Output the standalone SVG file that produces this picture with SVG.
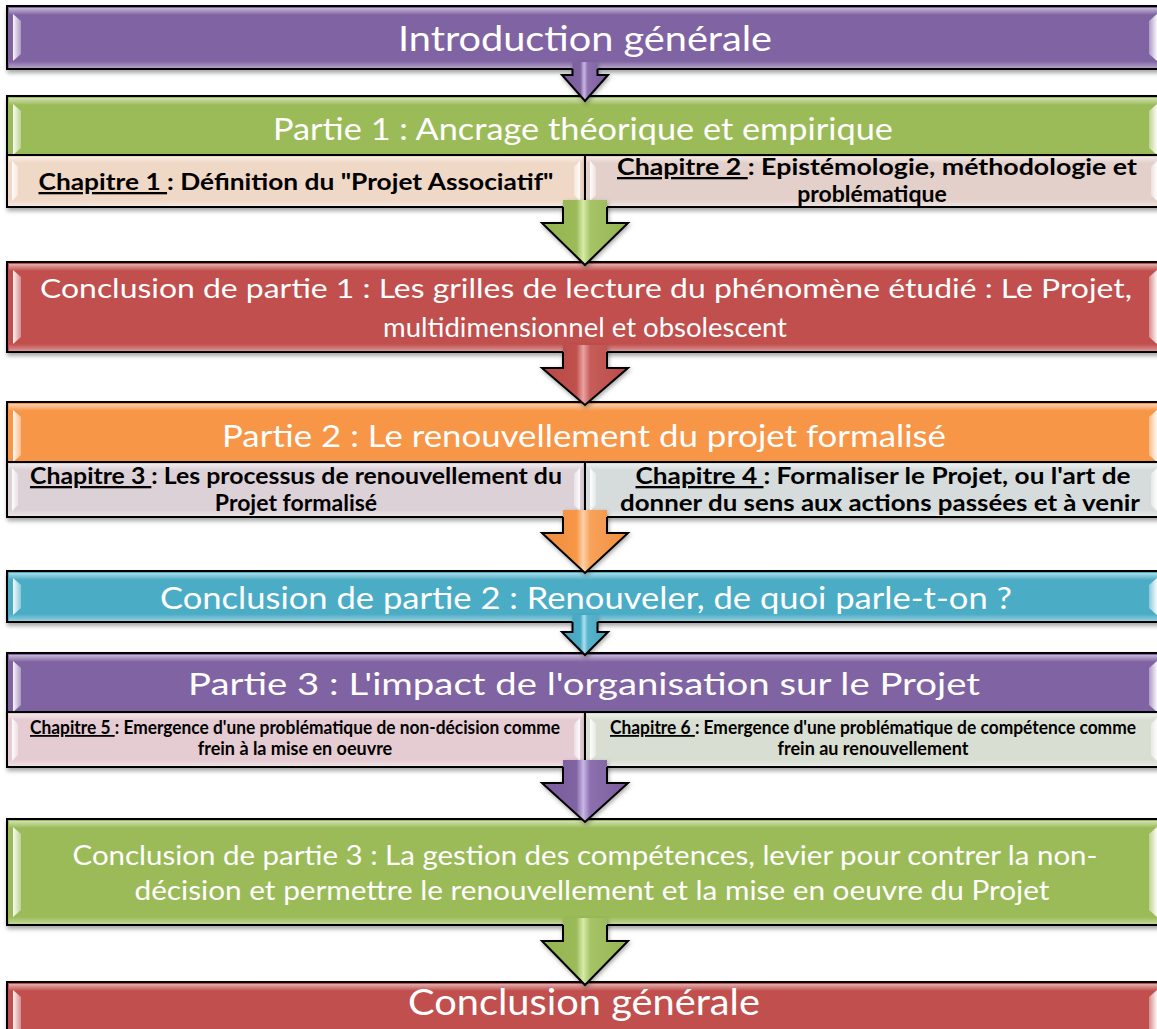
<svg xmlns="http://www.w3.org/2000/svg" width="1157" height="1029" viewBox="0 0 1157 1029">
<defs>
<style>
.bar{stroke:#000;stroke-width:2;filter:url(#sh)}
.chap{stroke:#000;stroke-width:2;filter:url(#sh)}
.purple{fill:#8064A2}.green{fill:#9BBB59}.red{fill:#C0504D}.orange{fill:#F79646}.teal{fill:#4BACC6}
.bt{font-family:Lato,"Open Sans",sans-serif;fill:#fff;text-anchor:middle}
.ct{font-family:Lato,"Open Sans",sans-serif;font-weight:700;fill:#000;text-anchor:middle;font-size:23px}
.cs{font-size:18px}
.u{text-decoration:underline}
.arr{stroke:none}
.arrs{fill:none;stroke:#000;stroke-width:2;stroke-linejoin:miter}
</style>
<filter id="sh" x="-5%" y="-30%" width="110%" height="170%"><feDropShadow dx="1" dy="3" stdDeviation="2" flood-color="#000" flood-opacity="0.35"/></filter>
<filter id="ash" x="-30%" y="-30%" width="160%" height="170%"><feDropShadow dx="1" dy="2" stdDeviation="2" flood-color="#000" flood-opacity="0.35"/></filter>
<linearGradient id="topHi" x1="0" y1="0" x2="0" y2="1"><stop offset="0" stop-color="#fff" stop-opacity="0.55"/><stop offset="1" stop-color="#fff" stop-opacity="0"/></linearGradient>
<linearGradient id="botHi" x1="0" y1="0" x2="0" y2="1"><stop offset="0" stop-color="#fff" stop-opacity="0"/><stop offset="1" stop-color="#fff" stop-opacity="0.4"/></linearGradient>
<linearGradient id="tab" x1="0" y1="0" x2="1" y2="0"><stop offset="0" stop-color="#fff" stop-opacity="0.95"/><stop offset="1" stop-color="#fff" stop-opacity="0.35"/></linearGradient>
<linearGradient id="tabR" x1="1" y1="0" x2="0" y2="0"><stop offset="0" stop-color="#fff" stop-opacity="0.95"/><stop offset="1" stop-color="#fff" stop-opacity="0.35"/></linearGradient>
<linearGradient id="gP" x1="0" y1="0" x2="1" y2="0"><stop offset="0" stop-color="#7A5C9C"/><stop offset="0.4" stop-color="#8064A2"/><stop offset="0.48" stop-color="#C9B6E6"/><stop offset="0.56" stop-color="#8C70AE"/><stop offset="1" stop-color="#7A5C9C"/></linearGradient>
<linearGradient id="gG" x1="0" y1="0" x2="1" y2="0"><stop offset="0" stop-color="#93B351"/><stop offset="0.4" stop-color="#9BBB59"/><stop offset="0.48" stop-color="#D6EBA8"/><stop offset="0.56" stop-color="#A6C466"/><stop offset="1" stop-color="#93B351"/></linearGradient>
<linearGradient id="gR" x1="0" y1="0" x2="1" y2="0"><stop offset="0" stop-color="#B84A47"/><stop offset="0.4" stop-color="#C0504D"/><stop offset="0.48" stop-color="#EAA3A1"/><stop offset="0.56" stop-color="#C65D5A"/><stop offset="1" stop-color="#B84A47"/></linearGradient>
<linearGradient id="gO" x1="0" y1="0" x2="1" y2="0"><stop offset="0" stop-color="#EF8E3F"/><stop offset="0.4" stop-color="#F79646"/><stop offset="0.48" stop-color="#FBD1A8"/><stop offset="0.56" stop-color="#F8A25A"/><stop offset="1" stop-color="#EF8E3F"/></linearGradient>
<linearGradient id="gT" x1="0" y1="0" x2="1" y2="0"><stop offset="0" stop-color="#44A3BC"/><stop offset="0.4" stop-color="#4BACC6"/><stop offset="0.48" stop-color="#A9E1F0"/><stop offset="0.56" stop-color="#58B4CC"/><stop offset="1" stop-color="#44A3BC"/></linearGradient>
</defs>
<rect width="1157" height="1029" fill="#fff"/>

<g id="intro">
<rect class="bar purple" x="7" y="6" width="1156" height="63"/>
<rect x="9" y="8" width="1152" height="7" fill="url(#topHi)"/>
<rect x="9" y="61" width="1152" height="7" fill="url(#botHi)"/>
<path d="M13,14 L21,21 V54 L13,61Z" fill="url(#tab)"/>
<path d="M1157,14 L1149,21 V54 L1157,61Z" fill="url(#tabR)"/>
<text class="bt" x="585" y="51" font-size="35" textLength="374" lengthAdjust="spacingAndGlyphs">Introduction générale</text>
</g>

<g id="partie1">
<rect class="bar green" x="7" y="96" width="1156" height="59"/>
<rect x="9" y="98" width="1152" height="7" fill="url(#topHi)"/>
<path d="M13,104 L21,111 V148 L13,155Z" fill="url(#tab)"/>
<path d="M1157,104 L1149,111 V148 L1157,155Z" fill="url(#tabR)"/>
<text class="bt" x="583" y="140" font-size="31" textLength="620" lengthAdjust="spacingAndGlyphs">Partie 1 : Ancrage théorique et empirique</text>
</g>

<g id="chapitre1">
<rect class="chap" x="7" y="155" width="578" height="52" fill="#F0D8C7"/>
<rect x="9" y="157" width="574" height="6" fill="url(#topHi)"/>
<rect x="9" y="200" width="574" height="6" fill="url(#botHi)"/>
<path d="M12,161 L18,167 V195 L12,201Z" fill="url(#tab)"/>
<path d="M580,161 L574,167 V195 L580,201Z" fill="url(#tabR)"/>
<text class="ct" x="296" y="190" textLength="515" lengthAdjust="spacingAndGlyphs"><tspan class="u">Chapitre 1 </tspan>: Définition du "Projet Associatif"</text>
</g>

<g id="chapitre2">
<rect class="chap" x="585" y="155" width="578" height="52" fill="#E3D0CA"/>
<rect x="587" y="157" width="574" height="6" fill="url(#topHi)"/>
<rect x="587" y="200" width="574" height="6" fill="url(#botHi)"/>
<path d="M590,161 L596,167 V195 L590,201Z" fill="url(#tab)"/>
<path d="M1157,161 L1151,167 V195 L1157,201Z" fill="url(#tabR)"/>
<text class="ct" x="877" y="175" textLength="520" lengthAdjust="spacingAndGlyphs"><tspan class="u">Chapitre 2 </tspan>: Epistémologie, méthodologie et</text>
<text class="ct" x="872" y="202">problématique</text>
</g>

<g id="conclusion1">
<rect class="bar red" x="7" y="262" width="1156" height="90"/>
<rect x="9" y="264" width="1152" height="7" fill="url(#topHi)"/>
<rect x="9" y="344" width="1152" height="7" fill="url(#botHi)"/>
<path d="M13,270 L21,277 V337 L13,344Z" fill="url(#tab)"/>
<path d="M1157,270 L1149,277 V337 L1157,344Z" fill="url(#tabR)"/>
<text class="bt" x="586" y="298" font-size="27.5" textLength="1092" lengthAdjust="spacingAndGlyphs">Conclusion de partie 1 : Les grilles de lecture du phénomène étudié : Le Projet,</text>
<text class="bt" x="585" y="337" font-size="27.5">multidimensionnel et obsolescent</text>
</g>

<g id="partie2">
<rect class="bar orange" x="7" y="402" width="1156" height="60"/>
<rect x="9" y="404" width="1152" height="7" fill="url(#topHi)"/>
<path d="M13,410 L21,417 V455 L13,462Z" fill="url(#tab)"/>
<path d="M1157,410 L1149,417 V455 L1157,462Z" fill="url(#tabR)"/>
<text class="bt" x="584" y="447" font-size="31" textLength="724" lengthAdjust="spacingAndGlyphs">Partie 2 : Le renouvellement du projet formalisé</text>
</g>

<g id="chapitre3">
<rect class="chap" x="7" y="462" width="578" height="55" fill="#DDD1D8"/>
<rect x="9" y="464" width="574" height="6" fill="url(#topHi)"/>
<rect x="9" y="510" width="574" height="6" fill="url(#botHi)"/>
<path d="M12,468 L18,474 V505 L12,511Z" fill="url(#tab)"/>
<path d="M580,468 L574,474 V505 L580,511Z" fill="url(#tabR)"/>
<text class="ct" x="296" y="484" textLength="532" lengthAdjust="spacingAndGlyphs"><tspan class="u">Chapitre 3 </tspan>: Les processus de renouvellement du</text>
<text class="ct" x="296" y="511">Projet formalisé</text>
</g>

<g id="chapitre4">
<rect class="chap" x="585" y="462" width="578" height="55" fill="#D6DCDC"/>
<rect x="587" y="464" width="574" height="6" fill="url(#topHi)"/>
<rect x="587" y="510" width="574" height="6" fill="url(#botHi)"/>
<path d="M590,468 L596,474 V505 L590,511Z" fill="url(#tab)"/>
<path d="M1157,468 L1151,474 V505 L1157,511Z" fill="url(#tabR)"/>
<text class="ct" x="883" y="484" textLength="495" lengthAdjust="spacingAndGlyphs"><tspan class="u">Chapitre 4 </tspan>: Formaliser le Projet, ou l'art de</text>
<text class="ct" x="880" y="511" textLength="520" lengthAdjust="spacingAndGlyphs">donner du sens aux actions passées et à venir</text>
</g>

<g id="conclusion2">
<rect class="bar teal" x="7" y="571" width="1156" height="51"/>
<rect x="9" y="573" width="1152" height="7" fill="url(#topHi)"/>
<rect x="9" y="614" width="1152" height="7" fill="url(#botHi)"/>
<path d="M13,578 L21,585 V608 L13,615Z" fill="url(#tab)"/>
<path d="M1157,578 L1149,585 V608 L1157,615Z" fill="url(#tabR)"/>
<text class="bt" x="586" y="609" font-size="30" textLength="852" lengthAdjust="spacingAndGlyphs">Conclusion de partie 2 : Renouveler, de quoi parle-t-on ?</text>
</g>

<g id="partie3">
<rect class="bar purple" x="7" y="653" width="1156" height="59"/>
<rect x="9" y="655" width="1152" height="7" fill="url(#topHi)"/>
<path d="M13,661 L21,668 V705 L13,712Z" fill="url(#tab)"/>
<path d="M1157,661 L1149,668 V705 L1157,712Z" fill="url(#tabR)"/>
<text class="bt" x="584" y="695" font-size="31" textLength="792" lengthAdjust="spacingAndGlyphs">Partie 3 : L'impact de l'organisation sur le Projet</text>
</g>

<g id="chapitre5">
<rect class="chap" x="7" y="712" width="578" height="55" fill="#E5CBD2"/>
<rect x="9" y="714" width="574" height="6" fill="url(#topHi)"/>
<rect x="9" y="760" width="574" height="6" fill="url(#botHi)"/>
<path d="M12,718 L18,724 V755 L12,761Z" fill="url(#tab)"/>
<path d="M580,718 L574,724 V755 L580,761Z" fill="url(#tabR)"/>
<text class="ct cs" x="295" y="734" textLength="530" lengthAdjust="spacingAndGlyphs"><tspan class="u">Chapitre 5 </tspan>: Emergence d'une problématique de non-décision comme</text>
<text class="ct cs" x="295" y="755">frein à la mise en oeuvre</text>
</g>

<g id="chapitre6">
<rect class="chap" x="585" y="712" width="578" height="55" fill="#D8DED2"/>
<rect x="587" y="714" width="574" height="6" fill="url(#topHi)"/>
<rect x="587" y="760" width="574" height="6" fill="url(#botHi)"/>
<path d="M590,718 L596,724 V755 L590,761Z" fill="url(#tab)"/>
<path d="M1157,718 L1151,724 V755 L1157,761Z" fill="url(#tabR)"/>
<text class="ct cs" x="873" y="734" textLength="526" lengthAdjust="spacingAndGlyphs"><tspan class="u">Chapitre 6 </tspan>: Emergence d'une problématique de compétence comme</text>
<text class="ct cs" x="873" y="755">frein au renouvellement</text>
</g>

<g id="conclusion3">
<rect class="bar green" x="7" y="819" width="1156" height="106"/>
<rect x="9" y="821" width="1152" height="7" fill="url(#topHi)"/>
<rect x="9" y="917" width="1152" height="7" fill="url(#botHi)"/>
<path d="M13,827 L21,834 V910 L13,917Z" fill="url(#tab)"/>
<path d="M1157,827 L1149,834 V910 L1157,917Z" fill="url(#tabR)"/>
<text class="bt" x="585" y="865" font-size="27" textLength="1025" lengthAdjust="spacingAndGlyphs">Conclusion de partie 3 : La gestion des compétences, levier pour contrer la non-</text>
<text class="bt" x="592" y="900" font-size="27" textLength="915" lengthAdjust="spacingAndGlyphs">décision et permettre le renouvellement et la mise en oeuvre du Projet</text>
</g>

<g id="conclusion-generale">
<rect class="bar red" x="7" y="982" width="1156" height="63"/>
<rect x="9" y="984" width="1152" height="7" fill="url(#topHi)"/>
<path d="M13,990 L21,997 V1040 L13,1047Z" fill="url(#tab)"/>
<path d="M1157,990 L1149,997 V1040 L1157,1047Z" fill="url(#tabR)"/>
<text class="bt" x="584" y="1015" font-size="36" textLength="352" lengthAdjust="spacingAndGlyphs">Conclusion générale</text>
</g>

<g id="connectors">
<g filter="url(#ash)">
<path class="arr" fill="url(#gP)" d="M572.5,62 H597.5 V75 H608 L585,101 L562,75 H572.5Z"/>
<path class="arrs" d="M572.5,69 V75 H562 L585,101 L608,75 H597.5 V69"/>
</g>
<g filter="url(#ash)">
<path class="arr" fill="url(#gG)" d="M563,200 H607 V223 H628 L585,265 L542,223 H563Z"/>
<path class="arrs" d="M563,207 V223 H542 L585,265 L628,223 H607 V207"/>
</g>
<g filter="url(#ash)">
<path class="arr" fill="url(#gR)" d="M563,345 H607 V368 H628 L585,405 L542,368 H563Z"/>
<path class="arrs" d="M563,352 V368 H542 L585,405 L628,368 H607 V352"/>
</g>
<g filter="url(#ash)">
<path class="arr" fill="url(#gO)" d="M563,510 H607 V533 H628 L585,573 L542,533 H563Z"/>
<path class="arrs" d="M563,517 V533 H542 L585,573 L628,533 H607 V517"/>
</g>
<g filter="url(#ash)">
<path class="arr" fill="url(#gT)" d="M572.5,615 H597.5 V632 H608 L585,655 L562,632 H572.5Z"/>
<path class="arrs" d="M572.5,622 V632 H562 L585,655 L608,632 H597.5 V622"/>
</g>
<g filter="url(#ash)">
<path class="arr" fill="url(#gP)" d="M563,760 H607 V783 H628 L585,822 L542,783 H563Z"/>
<path class="arrs" d="M563,767 V783 H542 L585,822 L628,783 H607 V767"/>
</g>
<g filter="url(#ash)">
<path class="arr" fill="url(#gG)" d="M563,918 H607 V941 H628 L585,985 L542,941 H563Z"/>
<path class="arrs" d="M563,925 V941 H542 L585,985 L628,941 H607 V925"/>
</g>
</g>
</svg>
